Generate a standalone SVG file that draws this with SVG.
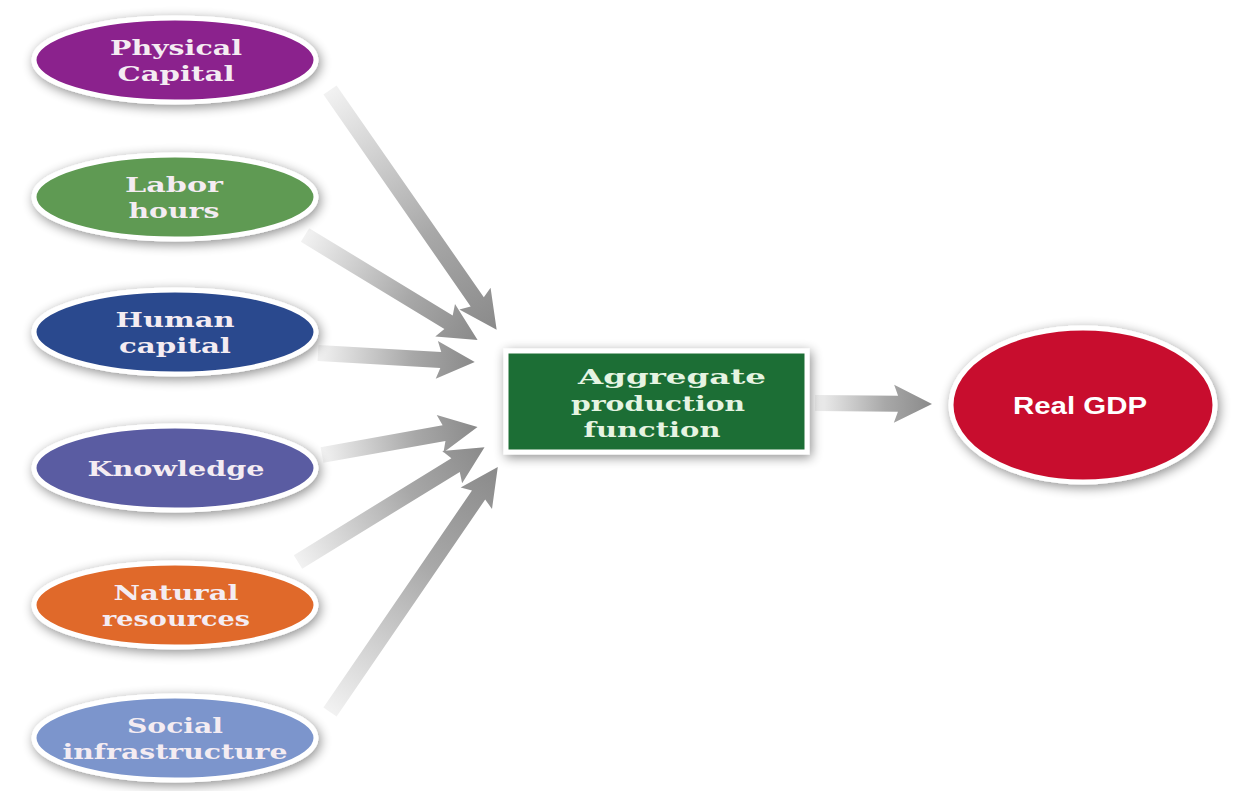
<svg xmlns="http://www.w3.org/2000/svg" width="1238" height="791" viewBox="0 0 1238 791">
<style>
.lbl{font-family:"DejaVu Serif","Liberation Serif",serif;font-weight:bold;font-size:21px;fill:#f4ecf2;text-anchor:middle}
.gl{fill:#e6f4e2}
.gdp{font-family:"Liberation Sans","DejaVu Sans",sans-serif;font-weight:bold;font-size:24px;fill:#ffffff;text-anchor:middle}
.node{stroke:#ffffff;stroke-width:5}
.arrow{fill:url(#ag)}
</style>
<defs>
<linearGradient id="ag" x1="0" y1="0" x2="1" y2="0">
<stop offset="0" stop-color="#f2f2f2"/>
<stop offset="0.6" stop-color="#a8a8a8"/>
<stop offset="1" stop-color="#8a8a8a"/>
</linearGradient>
<filter id="sh" x="-20%" y="-40%" width="140%" height="180%">
<feGaussianBlur in="SourceAlpha" stdDeviation="6"/>
<feOffset dx="2" dy="3" result="b"/>
<feComponentTransfer><feFuncA type="linear" slope="0.45"/></feComponentTransfer>
<feMerge><feMergeNode/><feMergeNode in="SourceGraphic"/></feMerge>
</filter>
</defs>
<rect width="1238" height="791" fill="#ffffff"/>
<g id="connectors">
<g transform="translate(330,90) rotate(55.2)"><path class="arrow" d="M0,-8 L258,-8 L254,-19 L292,0 L254,19 L258,8 L0,8 Z"/></g>
<g transform="translate(305,235) rotate(31.3)"><path class="arrow" d="M0,-8 L168,-8 L164,-19 L202,0 L164,19 L168,8 L0,8 Z"/></g>
<g transform="translate(318,353) rotate(3.3)"><path class="arrow" d="M0,-8 L123,-8 L119,-19 L157,0 L119,19 L123,8 L0,8 Z"/></g>
<g transform="translate(322,455) rotate(-10.2)"><path class="arrow" d="M0,-8 L124,-8 L120,-19 L158,0 L120,19 L124,8 L0,8 Z"/></g>
<g transform="translate(298,562) rotate(-31.6)"><path class="arrow" d="M0,-8 L185,-8 L181,-19 L219,0 L181,19 L185,8 L0,8 Z"/></g>
<g transform="translate(330,712) rotate(-55.6)"><path class="arrow" d="M0,-8 L263,-8 L259,-19 L297,0 L259,19 L263,8 L0,8 Z"/></g>
<g transform="translate(815,403) rotate(0.5)"><path class="arrow" d="M0,-8 L83,-8 L79,-19 L117,0 L79,19 L83,8 L0,8 Z"/></g>
</g>
<g id="physical-capital">
<ellipse class="node" cx="175" cy="60" rx="141" ry="42" fill="#8b218d" filter="url(#sh)"/>
<text class="lbl" x="176" y="55" textLength="132" lengthAdjust="spacingAndGlyphs">Physical</text>
<text class="lbl" x="176" y="81" textLength="117" lengthAdjust="spacingAndGlyphs">Capital</text>
</g>
<g id="labor-hours">
<ellipse class="node" cx="175" cy="197" rx="141" ry="42" fill="#5e9a52" filter="url(#sh)"/>
<text class="lbl" x="174" y="192" textLength="98" lengthAdjust="spacingAndGlyphs">Labor</text>
<text class="lbl" x="174" y="218" textLength="91" lengthAdjust="spacingAndGlyphs">hours</text>
</g>
<g id="human-capital">
<ellipse class="node" cx="175" cy="332" rx="141" ry="42" fill="#2c4a8e" filter="url(#sh)"/>
<text class="lbl" x="175" y="327" textLength="119" lengthAdjust="spacingAndGlyphs">Human</text>
<text class="lbl" x="175" y="353" textLength="112" lengthAdjust="spacingAndGlyphs">capital</text>
</g>
<g id="knowledge">
<ellipse class="node" cx="175" cy="468" rx="141" ry="42" fill="#5a5ba2" filter="url(#sh)"/>
<text class="lbl" x="176" y="476" textLength="177" lengthAdjust="spacingAndGlyphs">Knowledge</text>
</g>
<g id="natural-resources">
<ellipse class="node" cx="175" cy="605" rx="141" ry="42" fill="#e0692a" filter="url(#sh)"/>
<text class="lbl" x="176" y="600" textLength="125" lengthAdjust="spacingAndGlyphs">Natural</text>
<text class="lbl" x="176" y="626" textLength="148" lengthAdjust="spacingAndGlyphs">resources</text>
</g>
<g id="social-infrastructure">
<ellipse class="node" cx="175" cy="738" rx="141" ry="42" fill="#7b95cc" filter="url(#sh)"/>
<text class="lbl" x="175" y="733" textLength="96" lengthAdjust="spacingAndGlyphs">Social</text>
<text class="lbl" x="175" y="759" textLength="225" lengthAdjust="spacingAndGlyphs">infrastructure</text>
</g>
<g id="aggregate-production-function">
<rect class="node" x="506" y="351" width="301" height="101" fill="#1f6e34" filter="url(#sh)"/>
<text class="lbl gl" x="672" y="384" textLength="188" lengthAdjust="spacingAndGlyphs">Aggregate</text>
<text class="lbl gl" x="658" y="411" textLength="174" lengthAdjust="spacingAndGlyphs">production</text>
<text class="lbl gl" x="652" y="437" textLength="137" lengthAdjust="spacingAndGlyphs">function</text>
</g>
<g id="real-gdp">
<ellipse class="node" cx="1083" cy="405" rx="132" ry="77" fill="#c8102e" filter="url(#sh)"/>
<text class="gdp" x="1080" y="414" textLength="134" lengthAdjust="spacingAndGlyphs">Real GDP</text>
</g>
</svg>
